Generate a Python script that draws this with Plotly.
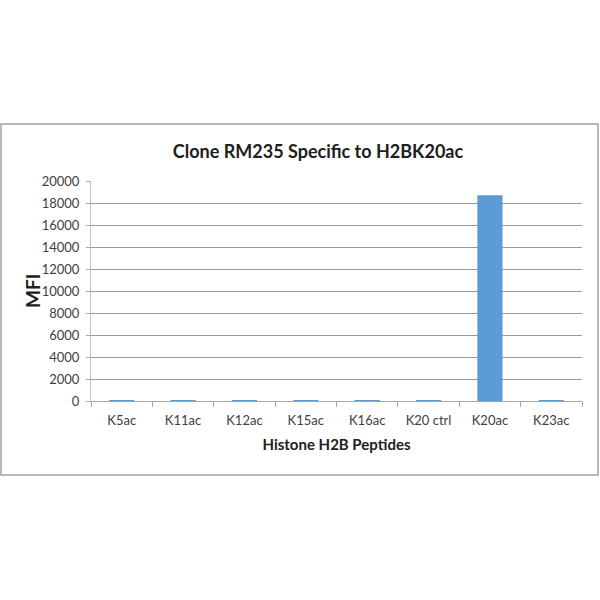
import plotly.graph_objects as go

# peptides and MFI signal
peptides = ['K5ac', 'K11ac', 'K12ac', 'K15ac', 'K16ac', 'K20 ctrl', 'K20ac', 'K23ac']
mfi = [60, 60, 60, 60, 60, 60, 18700, 60]
y_ticks = list(range(0, 20001, 2000))

txt = '#404040'
font = 'Lato, Open Sans, sans-serif'

fig = go.Figure()
fig.add_trace(go.Bar(x=peptides, y=mfi, marker=dict(color='#5B9BD5', line=dict(width=0))))

fig.update_layout(
    width=600, height=600,
    margin=dict(l=91, r=18, t=181, b=199),
    paper_bgcolor='white', plot_bgcolor='white',
    showlegend=False,
    bargap=0.59,
    font=dict(family=font, color=txt, size=13),
    title=dict(text='<b>Clone RM235 Specific to H2BK20ac</b>',
               x=(318 - 91) / 491, xanchor='center', xref='paper',
               y=1 - 152 / 600, yanchor='middle', yref='container',
               font=dict(size=18, color='#202020')),
)
fig.update_xaxes(
    type='category', tickson='boundaries', ticks='outside', ticklen=5,
    tickcolor='#a6a6a6', showline=True, linecolor='#a6a6a6',
    showgrid=False, ticklabelstandoff=7,
    title=dict(text='<b>Histone H2B Peptides</b>', font=dict(size=15, color='#202020'), standoff=12),
)
fig.update_yaxes(
    range=[0, 20000], tickvals=y_ticks, ticktext=[str(v) for v in y_ticks],
    ticks='outside', ticklen=4, ticklabelstandoff=4,
    tickcolor='#a6a6a6', showline=True, linecolor='#c0c0c0',
    showgrid=True, gridcolor='#9a9a9a', gridwidth=1, zeroline=False,
)

# y axis title sits closer to the labels than plotly's standoff allows
fig.add_annotation(text='<b>MFI</b>', textangle=-90, showarrow=False,
                   xref='paper', yref='paper',
                   x=(32 - 91) / 491, y=(401 - 291) / 220,
                   xanchor='center', yanchor='middle',
                   font=dict(size=19, color='#202020'))

# outer frame around the chart
fig.add_shape(type='rect', xref='paper', yref='paper',
              x0=(1 - 91) / 491, x1=(598 - 91) / 491,
              y0=(401 - 475) / 220, y1=(401 - 124) / 220,
              line=dict(color='#a0a0a0', width=1.5))

fig.write_html('out.html', config={'displayModeBar': False},
               post_script="document.body.style.margin='0';")
